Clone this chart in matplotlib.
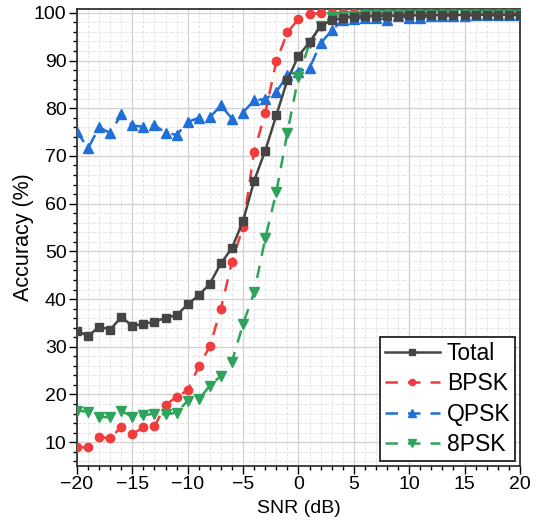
import numpy as np
import matplotlib
matplotlib.use("Agg")
import matplotlib.pyplot as plt
from matplotlib.ticker import MultipleLocator

plt.rcParams['font.family'] = ['Liberation Sans', 'DejaVu Sans']

# --- data ---
snr = list(range(-20, 21))

total = [33.4, 32.2, 34.2, 33.6, 36.2, 34.4, 34.8, 35.2, 36.1, 36.6,
         38.9, 40.8, 43.2, 47.5, 50.7, 56.4, 64.8, 71.1, 78.5, 85.9,
         91.0, 93.8, 97.3, 98.4, 98.9, 99.2, 99.3, 99.3, 99.4, 99.4,
         99.5, 99.5, 99.5, 99.5, 99.5, 99.6, 99.6, 99.6, 99.6, 99.6, 99.6]

bpsk = [8.9, 8.9, 11.1, 10.8, 13.2, 11.7, 13.1, 13.3, 17.8, 19.5,
        20.9, 25.9, 30.1, 38.0, 47.8, 55.2, 70.9, 79.0, 89.8, 95.9,
        98.7, 99.8, 99.9, 99.9, 99.9, 99.9, 99.9, 99.9, 99.9, 99.9,
        99.9, 99.9, 99.9, 99.9, 99.9, 99.9, 99.9, 99.9, 99.9, 99.9, 99.9]

qpsk = [75.1, 71.6, 76.0, 74.8, 78.7, 76.4, 76.1, 76.4, 74.9, 74.4,
        77.1, 78.0, 78.1, 80.6, 77.8, 79.1, 81.7, 81.9, 83.4, 86.9,
        87.7, 88.4, 93.6, 96.3, 98.5, 98.8, 98.9, 98.9, 98.6, 99.3,
        98.9, 98.9, 99.4, 99.3, 99.4, 99.4, 99.5, 99.5, 99.5, 99.6, 99.6]

psk8 = [16.6, 16.4, 15.3, 15.2, 16.6, 15.3, 15.6, 16.0, 15.8, 16.2,
        18.7, 19.0, 21.8, 23.9, 26.9, 34.8, 41.4, 52.7, 62.4, 74.9,
        86.6, 93.6, 97.3, 99.2, 99.4, 99.4, 99.5, 99.5, 99.5, 99.5,
        99.5, 99.5, 99.5, 99.5, 99.5, 99.5, 99.5, 99.5, 99.5, 99.5, 99.5]

# --- figure ---
fig = plt.figure(figsize=(5.41, 5.31), dpi=100)
ax = fig.add_axes([0.1423, 0.1224, 0.8187, 0.8606])

ax.plot(snr, total, '-s', color='#454545', lw=1.8, ms=6, label='Total', zorder=5)
ax.plot(snr, bpsk, '--o', color='#F03C3C', lw=1.8, ms=6, dashes=(5, 4), label='BPSK', zorder=4)
ax.plot(snr, qpsk, '--^', color='#1F6FD9', lw=1.8, ms=7, dashes=(5, 4), label='QPSK', zorder=3)
ax.plot(snr, psk8, '--v', color='#2EA35C', lw=1.8, ms=7, dashes=(5, 4), label='8PSK', zorder=4)

ax.set_xlim(-20, 20)
ax.set_ylim(5, 100.8)
ax.xaxis.set_major_locator(MultipleLocator(5))
ax.xaxis.set_minor_locator(MultipleLocator(1))
ax.yaxis.set_major_locator(MultipleLocator(10))
ax.yaxis.set_minor_locator(MultipleLocator(2))
ax.set_yticks(range(10, 101, 10))

ax.grid(which='major', color='#d0d0d0', lw=0.9, ls='-')
ax.grid(which='minor', color='#e6e6e6', lw=0.7, ls='--')
ax.set_axisbelow(True)

ax.tick_params(which='major', direction='out', length=6, width=1, labelsize=14, pad=1.5)
ax.tick_params(which='minor', direction='out', length=3, width=1)
for s in ax.spines.values():
    s.set_linewidth(1.3)
    s.set_color('#333333')

ax.set_xlabel('SNR (dB)', fontsize=14, labelpad=5)
ax.set_ylabel('Accuracy (%)', fontsize=15.5)
ax.yaxis.set_label_coords(-0.098, 0.5)

leg = ax.legend(loc='lower right', fontsize=16.5, frameon=True, fancybox=False,
                edgecolor='#222222', framealpha=1, handlelength=2.4,
                borderpad=0.2, labelspacing=0.33, handletextpad=0.3,
                borderaxespad=0.22, markerscale=0.75)
leg.get_frame().set_linewidth(1.3)

fig.savefig('out.png', dpi=100)
